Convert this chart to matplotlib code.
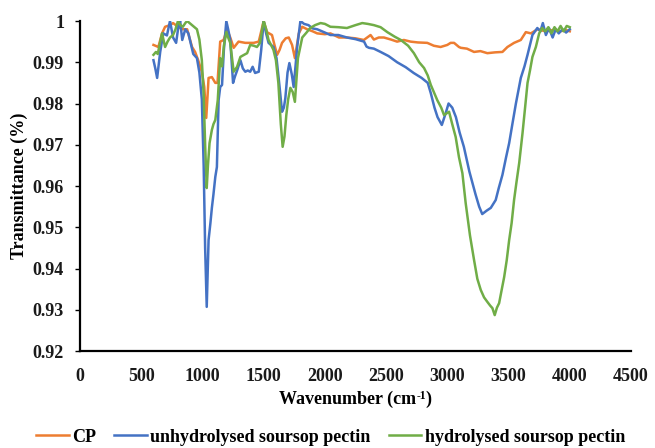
import matplotlib
matplotlib.use("Agg")
import matplotlib.pyplot as plt
from matplotlib.ticker import FuncFormatter

# ---------------- data ----------------
cp_x = [600, 640, 670, 695, 735, 760, 800, 835, 875, 915, 940, 965, 995, 1015, 1031, 1042,
        1050, 1077, 1105, 1123, 1145, 1173, 1200, 1227, 1255, 1295, 1350, 1418, 1460, 1500,
        1527, 1568, 1590, 1610, 1630, 1650, 1680, 1705, 1732, 1755, 1787, 1815, 1855, 1900,
        1937, 2000, 2045, 2115, 2180, 2250, 2318, 2373, 2400, 2440, 2482, 2540, 2590, 2645,
        2700, 2760, 2836, 2890, 2945, 3000, 3027, 3055, 3095, 3110, 3160, 3218, 3270, 3327,
        3390, 3450, 3491, 3545, 3600, 3641, 3682, 3737, 3800, 3860, 3920, 3970, 4000]
cp_y = [0.9942, 0.9937, 0.997, 0.9986, 0.999, 0.9995, 0.9986, 0.998, 0.998, 0.9937, 0.9925,
        0.9905, 0.9877, 0.984, 0.9765, 0.982, 0.9862, 0.9864, 0.985, 0.985, 0.995, 0.9954,
        0.998, 0.996, 0.9935, 0.995, 0.9947, 0.9947, 0.995, 1.0, 0.9973, 0.9966, 0.994,
        0.9918, 0.993, 0.9947, 0.9958, 0.996, 0.9942, 0.991, 0.997, 0.9986, 0.998, 0.9975,
        0.997, 0.9968, 0.997, 0.996, 0.996, 0.9958, 0.9954, 0.9966, 0.9955, 0.996, 0.996,
        0.9955, 0.995, 0.9954, 0.995, 0.9948, 0.9947, 0.994, 0.9937, 0.9942, 0.9947, 0.9947,
        0.9937, 0.9935, 0.9933, 0.9925, 0.9927, 0.9922, 0.9924, 0.9925, 0.9937, 0.9947,
        0.9954, 0.9973, 0.997, 0.998, 0.9975, 0.9978, 0.9975, 0.9978, 0.9975]

unhyd_x = [600, 615, 630, 655, 680, 710, 735, 760, 785, 805, 818, 835, 860, 885, 905, 925,
           955, 975, 995, 1010, 1022, 1035, 1050, 1065, 1077, 1090, 1105, 1118, 1132, 1145,
           1160, 1175, 1195, 1210, 1227, 1250, 1265, 1283, 1310, 1330, 1350, 1370, 1390, 1410,
           1430, 1460, 1480, 1500, 1520, 1540, 1580, 1605, 1630, 1650, 1665, 1677, 1695, 1710,
           1730, 1745, 1760, 1773, 1800, 1830, 1866, 1900, 1937, 2000, 2045, 2110, 2180, 2250,
           2320, 2340, 2360, 2400, 2455, 2520, 2590, 2660, 2725, 2790, 2840, 2865, 2895, 2920,
           2955, 2985, 3010, 3040, 3070, 3100, 3135, 3180, 3230, 3260, 3285, 3320, 3355, 3395,
           3420, 3450, 3480, 3505, 3530, 3560, 3600, 3630, 3655, 3695, 3735, 3760, 3780, 3805,
           3830, 3860, 3885, 3910, 3940, 3970, 4000]
unhyd_y = [0.9905, 0.9885, 0.9862, 0.9925, 0.997, 0.9965, 1.0, 0.996, 0.9947, 0.999, 1.0,
           0.9954, 0.998, 0.997, 0.9945, 0.992, 0.991, 0.9875, 0.981, 0.965, 0.945, 0.9307,
           0.9469, 0.951, 0.9547, 0.958, 0.9622, 0.9646, 0.9808, 0.984, 0.9845, 0.993, 1.0,
           0.998, 0.9954, 0.985, 0.9865, 0.988, 0.9905, 0.9885, 0.9877, 0.988, 0.9877, 0.9889,
           0.9874, 0.9877, 0.993, 1.0, 0.997, 0.9947, 0.9937, 0.991, 0.984, 0.978, 0.979,
           0.9813, 0.9875, 0.9898, 0.987, 0.984, 0.989, 0.9935, 1.0, 0.9993, 0.999, 0.9982,
           0.998, 0.9972, 0.9966, 0.9966, 0.996, 0.9956, 0.995, 0.9938, 0.9935, 0.9933, 0.9925,
           0.9915, 0.990, 0.9888, 0.9874, 0.9862, 0.985, 0.9825, 0.979, 0.9767, 0.9748, 0.9775,
           0.980, 0.979, 0.9767, 0.973, 0.9695, 0.9635, 0.958, 0.955, 0.9532, 0.954, 0.9547,
           0.9566, 0.9595, 0.9627, 0.967, 0.9704, 0.9748, 0.980, 0.9862, 0.989, 0.9918, 0.9966,
           0.9983, 0.9975, 0.9995, 0.9966, 0.9983, 0.996, 0.998, 0.997, 0.998, 0.9972, 0.998]

hyd_x = [600, 620, 635, 650, 670, 695, 715, 735, 760, 780, 800, 820, 840, 860, 875, 915, 955,
         975, 995, 1010, 1022, 1035, 1045, 1058, 1077, 1090, 1105, 1125, 1145, 1160, 1175, 1195,
         1210, 1227, 1255, 1283, 1310, 1340, 1365, 1390, 1420, 1445, 1470, 1500, 1520, 1540,
         1580, 1600, 1620, 1640, 1655, 1670, 1685, 1700, 1718, 1737, 1755, 1780, 1815, 1850,
         1880, 1920, 1965, 2000, 2045, 2110, 2180, 2250, 2305, 2350, 2400, 2455, 2510, 2570,
         2620, 2680, 2727, 2770, 2810, 2840, 2865, 2918, 2950, 2973, 3014, 3040, 3068, 3095,
         3123, 3150, 3185, 3218, 3245, 3273, 3300, 3327, 3350, 3368, 3387, 3405, 3423, 3445,
         3464, 3485, 3505, 3525, 3545, 3565, 3587, 3614, 3635, 3655, 3675, 3695, 3723, 3750,
         3775, 3800, 3825, 3850, 3875, 3900, 3925, 3950, 3975, 4000]
hyd_y = [0.9918, 0.9925, 0.992, 0.9942, 0.997, 0.9937, 0.995, 0.996, 0.9966, 0.998, 1.0,
         0.999, 0.9986, 0.9995, 1.0, 0.999, 0.998, 0.9955, 0.9905, 0.982, 0.970, 0.9595, 0.965,
         0.9704, 0.9736, 0.975, 0.976, 0.9808, 0.991, 0.989, 0.994, 0.9973, 0.996, 0.9947,
         0.9877, 0.9889, 0.9913, 0.9918, 0.9922, 0.9942, 0.9940, 0.9937, 0.9947, 1.0, 0.998,
         0.9954, 0.993, 0.9905, 0.985, 0.975, 0.9695, 0.972, 0.9772, 0.981, 0.9838, 0.9828,
         0.9804, 0.991, 0.996, 0.9972, 0.9983, 0.999, 0.9995, 0.9993, 0.9986, 0.9985, 0.9983,
         0.999, 0.9995, 0.9993, 0.999, 0.9985, 0.9973, 0.9962, 0.9954, 0.994, 0.9922, 0.990,
         0.9886, 0.9868, 0.9845, 0.9808, 0.979, 0.9772, 0.978, 0.975, 0.9719, 0.967, 0.9631,
         0.9558, 0.948, 0.9421, 0.9375, 0.9348, 0.933, 0.9319, 0.931, 0.9304, 0.9287, 0.9305,
         0.9316, 0.935, 0.9379, 0.942, 0.9469, 0.951, 0.9566, 0.961, 0.9656, 0.9728, 0.979,
         0.985, 0.988, 0.9913, 0.9937, 0.997, 0.9983, 0.9975, 0.9985, 0.997, 0.9985, 0.9975,
         0.9988, 0.9975, 0.9988, 0.9985]

series_labels = ["CP", "unhydrolysed soursop pectin", "hydrolysed soursop pectin"]
series_colors = ["#ED7D31", "#4472C4", "#70AD47"]
x_ticks = [0, 500, 1000, 1500, 2000, 2500, 3000, 3500, 4000, 4500]
y_ticks = [0.92, 0.93, 0.94, 0.95, 0.96, 0.97, 0.98, 0.99, 1.0]

# ---------------- figure ----------------
FONT = "Liberation Serif"
fig = plt.figure(figsize=(6.55, 4.48), dpi=100)
ax = fig.add_axes([80 / 655, 97 / 448, 551 / 655, 330 / 448])

for xs, ys, lab, col in zip([cp_x, unhyd_x, hyd_x], [cp_y, unhyd_y, hyd_y],
                            series_labels, series_colors):
    ax.plot(xs, ys, color=col, lw=1.8, label=lab, solid_joinstyle="round")

ax.set_xlim(0, 4500)
ax.set_ylim(0.92, 1.0)
ax.set_xticks(x_ticks)
ax.set_yticks(y_ticks)
ax.yaxis.set_major_formatter(FuncFormatter(lambda v, p: "1" if abs(v - 1) < 1e-9 else f"{v:.2f}"))

for s in ["top", "right"]:
    ax.spines[s].set_visible(False)
for s in ["left", "bottom"]:
    ax.spines[s].set_linewidth(1.6)
    ax.spines[s].set_color("black")

ax.tick_params(axis="x", length=0, pad=12)
ax.tick_params(axis="y", length=3.5, width=1.0, direction="out", pad=8)
for lbl in ax.get_xticklabels() + ax.get_yticklabels():
    lbl.set_fontfamily(FONT)
    lbl.set_fontweight("bold")
    lbl.set_fontsize(13)
    lbl.set_color("#1a1a1a")

# x label "Wavenumber (cm-1)" with small superscript, built from three pieces
renderer = fig.canvas.get_renderer()
kw = dict(fontfamily=FONT, fontweight="bold")
parts = [("Wavenumber (cm", 13, 0.0), ("-1", 8.5, 5.0), (")", 13, 0.0)]
widths = []
for s, fs, _ in parts:
    t = fig.text(0, 0, s, fontsize=fs, **kw)
    widths.append(t.get_window_extent(renderer=renderer).width)
    t.remove()
total = sum(widths)
cx = 80 + 551 / 2
base_y = 448 - 404  # baseline in pixels from bottom
xpos = cx - total / 2
for (s, fs, dy), w in zip(parts, widths):
    fig.text(xpos / 655, (base_y + dy) / 448, s, fontsize=fs, ha="left", va="baseline", **kw)
    xpos += w

ax.set_ylabel("Transmittance (%)", fontfamily=FONT, fontweight="bold", fontsize=13)
ax.yaxis.set_label_coords(-0.095, 0.5)

handles, labels = ax.get_legend_handles_labels()
leg = fig.legend(handles, labels, loc="center", bbox_to_anchor=(0.505, 1 - 437 / 448),
                 ncol=3, frameon=False, handlelength=1.8, handletextpad=0.2,
                 columnspacing=1.0, prop={"family": FONT, "weight": "bold", "size": 13})

fig.savefig("out.png", dpi=100)
